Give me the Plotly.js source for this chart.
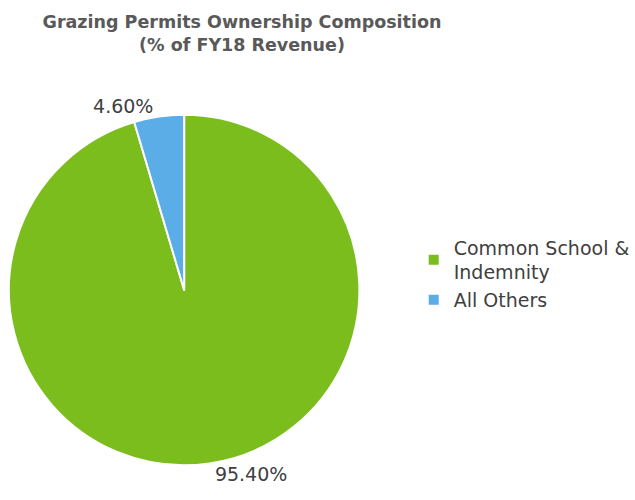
<!DOCTYPE html>
<html>
<head>
<meta charset="utf-8">
<script src="https://cdn.plot.ly/plotly-3.0.1.min.js"></script>
<style>html,body{margin:0;padding:0;background:#fff;}#chart{width:635px;height:500px;}</style>
</head>
<body>
<div id="chart"></div>
<script>
const labels = ["Common School &<br>Indemnity", "All Others"];
const values = [95.40, 4.60];
const colors = ["#7CBD1E", "#5AADE6"];

const trace = {
  type: 'pie',
  labels: labels,
  values: values,
  sort: false,
  direction: 'clockwise',
  rotation: 0,
  marker: {colors: colors, line: {color: '#ffffff', width: 2}},
  textinfo: 'text',
  text: values.map(v => v.toFixed(2) + '%'),
  textposition: 'outside',
  textfont: {family: 'DejaVu Sans, Verdana, sans-serif', size: 19, color: '#404040'},
  hoverinfo: 'label+percent',
  domain: {x: [9/635, 364/635], y: [30/500, 390/500]},
  automargin: false
};

const layout = {
  width: 635, height: 500,
  margin: {l: 0, r: 0, t: 0, b: 0},
  paper_bgcolor: '#ffffff',
  title: {
    text: '<b>Grazing Permits Ownership Composition<br>(% of FY18 Revenue)</b>',
    font: {family: 'DejaVu Sans, Verdana, sans-serif', size: 17.5, color: '#595959'},
    x: 242/635, xanchor: 'center', y: 0.944, yanchor: 'top'
  },
  showlegend: true,
  legend: {
    x: 419/635, xanchor: 'left', y: 0.452, yanchor: 'middle',
    font: {family: 'DejaVu Sans, Verdana, sans-serif', size: 19, color: '#404040'},
    itemwidth: 30
  }
};

Plotly.newPlot('chart', [trace], layout, {displayModeBar: false, staticPlot: true});
</script>
</body>
</html>
